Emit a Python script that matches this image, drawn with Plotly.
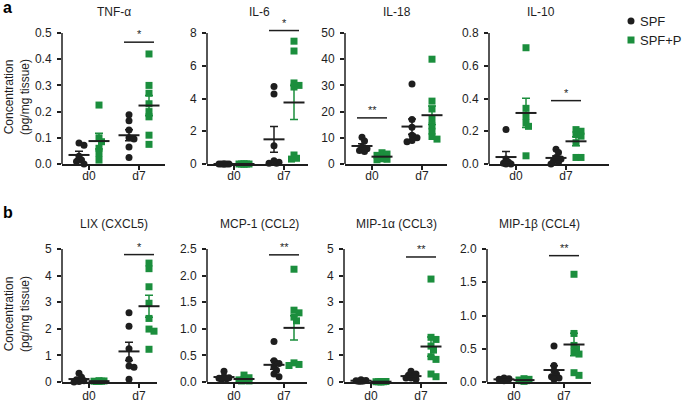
import numpy as np
import plotly.graph_objects as go

W, H = 685, 403          # reference picture size (pixels used for placement)
FIG_H = 410              # rendered height (page is shown slightly compressed)
GREEN = "#1b8e3d"
INK = "#1e1e1e"
FONT = "Liberation Sans, Arial, sans-serif"

days = ["d0", "d7"]
groups = ["SPF", "SPF+P"]

# ---- data (pg/mg tissue) ----
tnf_spf_d0 = [0.08, 0.072, 0.03, 0.015, 0.0, 0.01]
tnf_spfp_d0 = [0.225, 0.10, 0.085, 0.06, 0.04, 0.015]
tnf_spf_d7 = [0.188, 0.165, 0.13, 0.10, 0.095, 0.065, 0.025]
tnf_spfp_d7 = [0.42, 0.30, 0.27, 0.23, 0.20, 0.18, 0.11, 0.075]

il6_spf_d0 = [0.0, 0.0, 0.0, 0.0, 0.0, 0.0]
il6_spfp_d0 = [0.0, 0.0, 0.0, 0.0, 0.0, 0.0]
il6_spf_d7 = [4.74, 4.28, 1.12, 0.05, 0.05, 0.10, 0.20]
il6_spfp_d7 = [7.5, 6.9, 4.95, 4.8, 4.7, 0.55, 0.35, 0.30]

il18_spf_d0 = [10.2, 8.8, 6.5, 5.8, 5.2, 4.8]
il18_spfp_d0 = [4.3, 3.8, 3.3, 2.0, 1.6, 1.8]
il18_spf_d7 = [30.5, 17.0, 14.0, 11.0, 10.0, 9.0, 8.5]
il18_spfp_d7 = [40.0, 24.0, 21.0, 17.0, 14.5, 12.5, 10.5, 9.5]

il10_spf_d0 = [0.21, 0.03, 0.01, 0.005, 0.0, 0.0]
il10_spfp_d0 = [0.71, 0.34, 0.29, 0.25, 0.23, 0.05]
il10_spf_d7 = [0.09, 0.07, 0.04, 0.03, 0.02, 0.01, 0.0]
il10_spfp_d7 = [0.21, 0.20, 0.18, 0.17, 0.13, 0.04, 0.04]

lix_spf_d0 = [0.33, 0.18, 0.08, 0.05, 0.02, 0.0]
lix_spfp_d0 = [0.05, 0.04, 0.03, 0.03, 0.02, 0.02]
lix_spf_d7 = [2.6, 2.1, 1.25, 0.85, 0.6, 0.55, 0.1]
lix_spfp_d7 = [4.47, 4.26, 3.58, 2.96, 2.39, 1.99, 1.91, 1.23]

mcp_spf_d0 = [0.20, 0.10, 0.08, 0.07, 0.06, 0.05]
mcp_spfp_d0 = [0.13, 0.08, 0.05, 0.04, 0.02, 0.02]
mcp_spf_d7 = [0.76, 0.40, 0.35, 0.28, 0.22, 0.15, 0.10]
mcp_spfp_d7 = [2.12, 1.35, 1.30, 1.22, 1.15, 0.36, 0.33, 0.31]

mip1a_spf_d0 = [0.08, 0.06, 0.05, 0.04, 0.03, 0.03]
mip1a_spfp_d0 = [0.02, 0.02, 0.01, 0.01, 0.01, 0.0]
mip1a_spf_d7 = [0.40, 0.30, 0.25, 0.20, 0.15, 0.15, 0.10]
mip1a_spfp_d7 = [3.87, 1.68, 1.60, 1.35, 1.20, 0.95, 0.85, 0.30, 0.20]

mip1b_spf_d0 = [0.06, 0.05, 0.04, 0.04, 0.03, 0.02]
mip1b_spfp_d0 = [0.05, 0.04, 0.03, 0.02, 0.02, 0.01]
mip1b_spf_d7 = [0.54, 0.25, 0.17, 0.12, 0.08, 0.06, 0.04]
mip1b_spfp_d7 = [1.62, 0.73, 0.55, 0.50, 0.45, 0.42, 0.14, 0.10]

titles = ["TNF-α", "IL-6", "IL-18", "IL-10",
          "LIX (CXCL5)", "MCP-1 (CCL2)", "MIP-1α (CCL3)", "MIP-1β (CCL4)"]
tick_tops = [0.5, 8, 50, 0.8, 5, 2.5, 5, 2.0]
tick_steps = [0.1, 2, 10, 0.2, 1, 0.5, 1, 0.5]
tick_fmts = [".1f", "d", "d", ".1f", "d", ".1f", "d", ".1f"]
sig_day = [1, 1, 0, 1, 1, 1, 1, 1]
sig_level = [0.465, 8.15, 17.6, 0.387, 4.79, 2.39, 4.7, 1.9]
sig_text = ["*", "*", "**", "*", "*", "**", "**", "**"]

panel_data = [
    [[tnf_spf_d0, tnf_spf_d7], [tnf_spfp_d0, tnf_spfp_d7]],
    [[il6_spf_d0, il6_spf_d7], [il6_spfp_d0, il6_spfp_d7]],
    [[il18_spf_d0, il18_spf_d7], [il18_spfp_d0, il18_spfp_d7]],
    [[il10_spf_d0, il10_spf_d7], [il10_spfp_d0, il10_spfp_d7]],
    [[lix_spf_d0, lix_spf_d7], [lix_spfp_d0, lix_spfp_d7]],
    [[mcp_spf_d0, mcp_spf_d7], [mcp_spfp_d0, mcp_spfp_d7]],
    [[mip1a_spf_d0, mip1a_spf_d7], [mip1a_spfp_d0, mip1a_spfp_d7]],
    [[mip1b_spf_d0, mip1b_spf_d7], [mip1b_spfp_d0, mip1b_spfp_d7]],
]

# ---- layout geometry (pixels of the reference picture) ----
col_px = [(62, 165), (207, 308), (345, 447), (489, 609),
          (62, 157), (207, 307), (344, 447), (487, 591)]
row_px = [(20, 33, 164), (236, 249, 382)]  # domain top, top tick, zero line
row_standoff = [-4, -2]
PX_UNIT = 50.0
X0 = -0.54
OFFS = [-0.2, 0.2]
colors = [INK, GREEN]
symbols = ["circle", "square"]


def py(pix):
    return 1 - pix / H


def swarm(vals, center, ypu):
    order = sorted(range(len(vals)), key=lambda i: -vals[i])
    placed, xs = [], [0.0] * len(vals)
    step = 2.5
    cands = [0.0, step, -step, 2 * step, -2 * step]
    for i in order:
        yp = vals[i] * ypu
        best, bestd = 0.0, -1
        for c in cands:
            dmin = min([((c - a) ** 2 + (yp - b) ** 2) ** 0.5 for a, b in placed] or [99])
            if dmin >= 4.0:
                best = c
                break
            if dmin > bestd:
                best, bestd = c, dmin
        placed.append((best, yp))
        xs[i] = center + best / PX_UNIT
    return xs


fig = go.Figure()
layout = dict(width=W, height=FIG_H, margin=dict(l=0, r=0, t=0, b=0),
              paper_bgcolor="white", plot_bgcolor="white",
              font=dict(family=FONT, size=12, color=INK),
              showlegend=False)
shapes, annos = [], []

for p in range(8):
    r = p // 4
    sfx = "" if p == 0 else str(p + 1)
    xa, ya = "x" + sfx, "y" + sfx
    left, right = col_px[p]
    dtop, ttop, zero = row_px[r]
    T = tick_tops[p]
    ytop = T * (zero - dtop) / (zero - ttop)
    ypu = (zero - ttop) / T
    xmax = X0 + (right - left) / PX_UNIT

    layout["xaxis" + sfx] = dict(
        domain=[left / W, right / W], range=[X0, xmax], anchor=ya,
        tickvals=[0, 1], ticktext=days, ticks="outside", ticklen=4,
        tickwidth=1.5, tickcolor=INK, showline=True, linewidth=1.5,
        linecolor=INK, showgrid=False, zeroline=False,
        ticklabelstandoff=row_standoff[r],
        tickfont=dict(size=12), fixedrange=True)
    ticks = list(np.round(np.arange(0, T + 1e-9, tick_steps[p]), 3))
    layout["yaxis" + sfx] = dict(
        domain=[py(zero), py(dtop)], range=[0, ytop], anchor=xa,
        tickvals=ticks, tickformat=tick_fmts[p], ticks="outside", ticklen=4,
        tickwidth=1.5, tickcolor=INK, showline=False, showgrid=False,
        zeroline=False, ticklabelstandoff=3,
        tickfont=dict(size=12), fixedrange=True)
    # y axis line only up to top tick
    shapes.append(dict(type="line", xref=xa + " domain", yref=ya,
                       x0=0, x1=0, y0=0, y1=T,
                       line=dict(color=INK, width=1.5)))

    for g in range(2):
        for d in range(2):
            vals = panel_data[p][g][d]
            c = d + OFFS[g]
            fig.add_trace(go.Scatter(
                x=swarm(vals, c, ypu), y=vals, mode="markers",
                name=groups[g], legendgroup=groups[g],
                marker=dict(symbol=symbols[g], size=7, color=colors[g],
                            line=dict(width=0)),
                cliponaxis=False, xaxis=xa, yaxis=ya, hoverinfo="y"))
    for g in range(2):
        for d in range(2):
            vals = np.array(panel_data[p][g][d], dtype=float)
            m = vals.mean()
            sem = vals.std(ddof=1) / np.sqrt(len(vals))
            c = d + OFFS[g]
            fig.add_trace(go.Scatter(
                x=[c], y=[m], mode="markers",
                marker=dict(symbol="line-ew", size=15,
                            line=dict(width=2, color=INK)),
                error_y=dict(type="data", array=[sem], visible=True,
                             color=colors[g], thickness=1.5, width=4),
                cliponaxis=False, xaxis=xa, yaxis=ya, hoverinfo="y"))

    # significance
    sd = sig_day[p]
    shapes.append(dict(type="line", xref=xa, yref=ya,
                       x0=sd - 0.3, x1=sd + 0.3,
                       y0=sig_level[p], y1=sig_level[p],
                       line=dict(color=INK, width=1.5)))
    annos.append(dict(x=sd, y=sig_level[p], xref=xa, yref=ya,
                      text=sig_text[p], showarrow=False, yanchor="bottom",
                      font=dict(size=11, color=INK)))
    # panel title
    cx = (left + (0.5 - X0) * PX_UNIT) / W
    ty = 12 if r == 0 else 224
    annos.append(dict(x=cx, y=py(ty), xref="paper", yref="paper",
                      text=titles[p], showarrow=False, xanchor="center",
                      yanchor="middle", font=dict(size=12, color=INK)))

# y axis titles
for yc in (97, 314):
    annos.append(dict(x=17 / W, y=py(yc), xref="paper", yref="paper",
                      text="Concentration<br>(pg/mg tissue)", textangle=-90,
                      showarrow=False, xanchor="center", yanchor="middle",
                      font=dict(size=12, color=INK)))
# panel letters
annos.append(dict(x=1 / W, y=py(8), xref="paper", yref="paper", text="<b>a</b>",
                  showarrow=False, xanchor="left", yanchor="middle",
                  font=dict(size=16, color="black")))
annos.append(dict(x=1 / W, y=py(212), xref="paper", yref="paper", text="<b>b</b>",
                  showarrow=False, xanchor="left", yanchor="middle",
                  font=dict(size=16, color="black")))

# legend (key glyphs + labels)
leg_y = [21, 40]
for g in range(2):
    cy = leg_y[g]
    shapes.append(dict(type="circle" if g == 0 else "rect", xref="paper", yref="paper",
                       x0=627.5 / W, x1=634.5 / W,
                       y0=py(cy + 3.5), y1=py(cy - 3.5),
                       fillcolor=colors[g], line=dict(width=0)))
    annos.append(dict(x=638 / W, y=py(cy), xref="paper", yref="paper",
                      text=groups[g], showarrow=False, xanchor="left",
                      yanchor="middle", font=dict(size=13, color=INK)))

layout["shapes"] = shapes
layout["annotations"] = annos
fig.update_layout(**layout)
fig.write_html("out.html", config={"displayModeBar": False},
               post_script="document.body.style.margin='0';"
                           "document.body.style.overflow='hidden';")
